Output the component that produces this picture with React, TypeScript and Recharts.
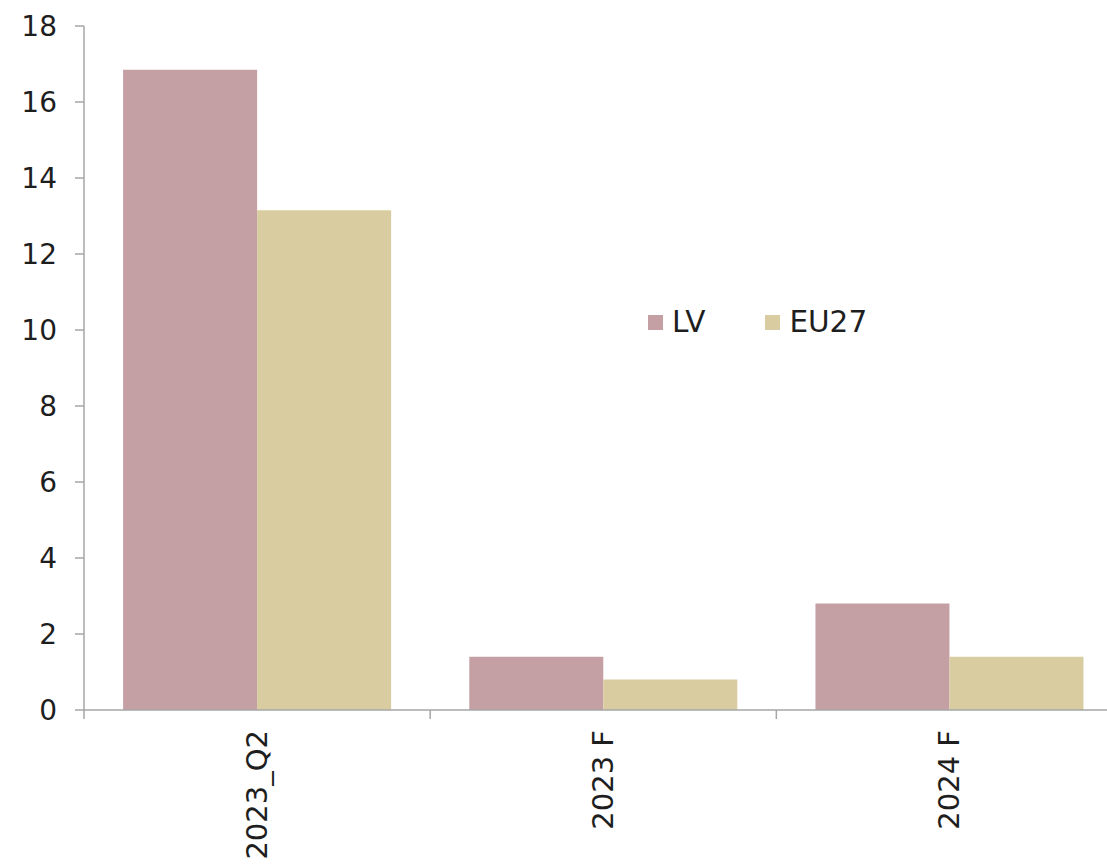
import { BarChart, Bar, XAxis, YAxis, Legend } from "recharts";

const categories = ["2023_Q2", "2023 F", "2024 F"];
const lvValues = [16.85, 1.4, 2.8];
const eu27Values = [13.15, 0.8, 1.4];
const yTicks = [0, 2, 4, 6, 8, 10, 12, 14, 16, 18];

const seriesNames = { lv: "LV", eu: "EU27" };
const colors = { lv: "#C4A0A4", eu: "#D8CCA0" };

const data = categories.map((cat, i) => ({
  cat,
  lv: lvValues[i],
  eu: eu27Values[i],
}));

const FONT = "'DejaVu Sans', Verdana, sans-serif";
const AXIS = "#A6A6A6";
const TEXT = "#1E1E1E";

/* x tick: boundary tick mark on the left of each band + rotated label */
const CategoryTick = (props: any) => {
  const { x, y, payload } = props;
  const half = payload && payload.offset ? payload.offset : 0;
  return (
    <g>
      <line x1={x - half} y1={y} x2={x - half} y2={y + 9} stroke={AXIS} strokeWidth={1.5} />
      <text
        x={x}
        y={y + 20}
        transform={`rotate(-90, ${x}, ${y + 20})`}
        textAnchor="end"
        dominantBaseline="central"
        fontFamily={FONT}
        fontSize={29}
        fill={TEXT}
      >
        {payload.value}
      </text>
    </g>
  );
};

const LegendBox = () => (
  <div style={legendRow}>
    <div style={{ ...legendItem, marginRight: 60 }}>
      <span style={{ ...swatch, background: colors.lv }} />
      <span>{seriesNames.lv}</span>
    </div>
    <div style={legendItem}>
      <span style={{ ...swatch, background: colors.eu }} />
      <span>{seriesNames.eu}</span>
    </div>
  </div>
);

export default function App() {
  return (
    <div style={frame}>
      <BarChart
        width={1140}
        height={865}
        data={data}
        margin={{ top: 26, right: 17.5, left: 0, bottom: 0 }}
        barCategoryGap="11.3%"
        barGap={0}
      >
        <XAxis
          dataKey="cat"
          height={155}
          interval={0}
          axisLine={{ stroke: AXIS, strokeWidth: 1.5 }}
          tickLine={false}
          tickSize={0}
          tickMargin={0}
          tick={<CategoryTick />}
        />
        <YAxis
          width={84}
          domain={[0, 18]}
          ticks={yTicks}
          interval={0}
          axisLine={{ stroke: AXIS, strokeWidth: 1.5 }}
          tickLine={{ stroke: AXIS, strokeWidth: 1.5 }}
          tickSize={9}
          tickMargin={18}
          tick={{ fontFamily: FONT, fontSize: 28, fill: TEXT }}
        />
        <Legend
          verticalAlign="middle"
          layout="horizontal"
          content={<LegendBox />}
          wrapperStyle={{ position: "absolute", left: 648, top: 306, width: "auto" }}
        />
        <Bar dataKey="lv" name={seriesNames.lv} fill={colors.lv} isAnimationActive={false} />
        <Bar dataKey="eu" name={seriesNames.eu} fill={colors.eu} isAnimationActive={false} />
      </BarChart>
    </div>
  );
}

/* ================= STYLES ================= */

const frame = {
  position: "fixed" as const,
  left: 0,
  top: 0,
  width: 1107,
  height: 865,
  overflow: "hidden",
  background: "#ffffff",
};

const legendRow = {
  display: "flex",
  alignItems: "center",
  fontFamily: FONT,
  fontSize: 29.5,
  lineHeight: "32px",
  color: TEXT,
  whiteSpace: "nowrap" as const,
};

const legendItem = {
  display: "flex",
  alignItems: "center",
};

const swatch = {
  display: "inline-block",
  width: 15,
  height: 15,
  marginRight: 9,
};
